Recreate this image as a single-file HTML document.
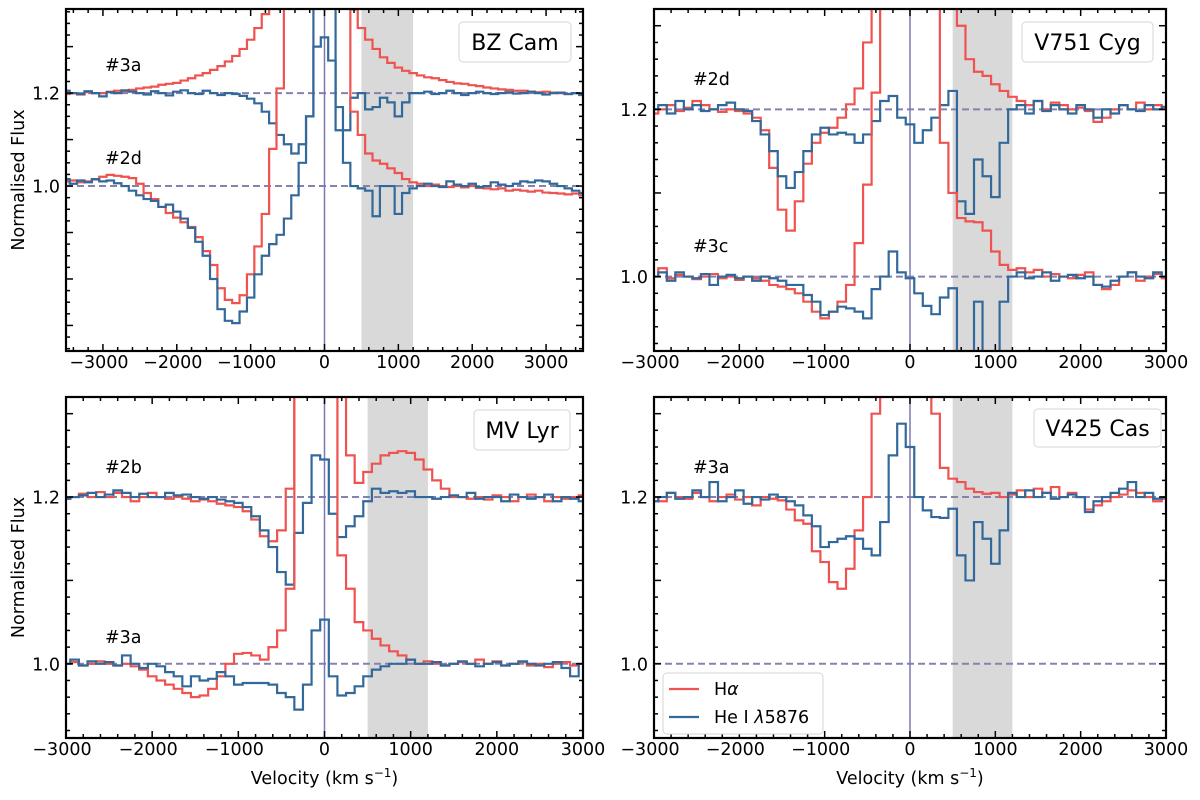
<!DOCTYPE html>
<html><head><meta charset="utf-8">
<style>
html,body{margin:0;padding:0;background:#fff;}
svg{display:block;font-family:"DejaVu Sans","Liberation Sans",sans-serif;}
</style></head>
<body>
<svg id="fig" width="1200" height="800" viewBox="0 0 1200 800" xmlns="http://www.w3.org/2000/svg"></svg>
<script>
// ---------------- DATA (100 km/s bins) ----------------
const tlStart = -3500;
const tlRed3a = [1.198,1.2,1.197,1.202,1.2,1.2,1.203,1.205,1.204,1.207,1.21,1.212,1.214,1.218,1.22,1.222,1.227,1.232,1.238,1.243,1.25,1.258,1.268,1.28,1.295,1.315,1.34,1.37,1.4,1.5,
 1.6,1.6,1.6,1.6,1.6,1.6,1.6,1.6,1.6,
 1.38,1.34,1.315,1.295,1.277,1.265,1.255,1.248,1.243,1.238,1.234,1.232,1.228,1.224,1.221,1.22,1.217,1.215,1.212,1.21,1.208,1.207,1.205,1.205,1.203,1.202,1.203,1.201,1.2,1.198,1.2,1.197];
const tlBlue3a = [1.205,1.2,1.198,1.204,1.2,1.193,1.202,1.2,1.206,1.203,1.2,1.197,1.204,1.2,1.195,1.203,1.206,1.2,1.198,1.205,1.2,1.196,1.2,
 1.198,1.194,1.188,1.178,1.16,1.135,1.11,1.09,1.07,1.09,1.15,1.3,1.32,1.27,1.17,1.12,1.19,1.2,1.165,1.17,1.19,1.18,1.15,1.18,1.2,
 1.2,1.203,1.198,1.2,1.205,1.2,1.196,1.2,1.203,1.2,1.198,1.2,1.202,1.199,1.2,1.203,1.2,1.197,1.2,1.201,1.198,1.2,1.196];
const tlRed2d = [1.01,1.012,1.008,1.01,1.014,1.02,1.024,1.022,1.02,1.017,1.005,0.985,0.972,0.955,0.942,0.932,0.922,0.912,0.89,0.86,0.83,0.78,0.755,0.748,0.765,0.81,0.87,0.94,1.08,1.21,1.5,
 1.6,1.6,1.6,1.6,1.6,1.6,1.6,1.6,
 1.16,1.11,1.07,1.055,1.048,1.038,1.028,1.015,1.008,1.005,1.0,1.003,1.0,0.998,1.0,0.997,1.0,0.996,0.995,0.993,0.995,0.99,0.992,0.99,0.988,0.99,0.986,0.985,0.984,0.982,0.984,0.98];
const tlBlue2d = [1.015,1.005,1.012,1.008,1.015,1.01,1.012,1.006,1.0,0.99,0.98,0.972,0.968,0.955,0.96,0.945,0.93,0.91,0.88,0.85,0.80,0.735,0.71,0.705,0.73,0.76,0.81,0.85,0.875,0.895,0.93,0.98,1.05,1.15,1.6,
 1.6,1.4,1.12,1.05,1.0,0.995,0.99,0.935,1.0,1.0,0.94,0.985,0.995,1.0,1.005,1.0,0.998,1.01,1.003,1.0,1.005,0.998,1.0,1.008,1.003,1.0,1.005,1.01,1.008,1.012,1.01,1.005,1.0,0.995,0.99,0.985];

const trStart = -3000;
const trRed2d = [1.195,1.2,1.205,1.198,1.202,1.21,1.205,1.2,1.197,1.2,1.198,1.195,1.19,1.175,1.13,1.08,1.055,1.09,1.135,1.16,1.172,1.178,1.19,1.206,1.225,1.28,1.35,
 1.5,1.5,1.5,1.5,1.5,1.5,1.5,1.5,1.5,
 1.3,1.26,1.245,1.24,1.23,1.222,1.215,1.21,1.205,1.21,1.2,1.208,1.205,1.2,1.202,1.198,1.185,1.19,1.2,1.205,1.2,1.208,1.2,1.205,1.2];
const trBlue2d = [1.2,1.205,1.195,1.21,1.2,1.205,1.198,1.2,1.205,1.208,1.2,1.198,1.186,1.17,1.15,1.12,1.106,1.125,1.15,1.17,1.178,1.17,1.172,1.17,1.16,1.17,1.186,1.21,1.216,1.19,1.182,1.16,1.175,1.19,1.205,1.222,1.09,1.075,1.14,1.12,1.095,1.16,1.2,1.205,1.195,1.21,1.198,1.205,1.2,1.195,1.205,1.2,1.19,1.2,1.195,1.205,1.2,1.198,1.205,1.2,1.203];
const trRed3c = [1.0,1.01,0.998,1.002,1.0,0.997,1.0,1.003,0.998,1.0,0.996,1.0,0.998,0.995,0.99,0.988,0.985,0.98,0.97,0.958,0.95,0.958,0.97,0.99,1.04,1.11,1.22,1.4,
 1.5,1.5,1.5,1.5,1.5,1.5,
 1.16,1.1,1.07,1.066,1.065,1.055,1.03,1.014,1.008,1.01,1.005,1.008,1.0,1.003,1.0,0.998,1.002,1.005,0.99,0.985,0.99,1.0,1.005,0.995,1.0,1.003,0.998];
const trBlue3c = [1.0,1.005,0.995,1.005,1.0,0.998,1.003,0.99,1.0,1.002,0.998,1.0,0.995,1.0,0.998,0.995,0.99,0.99,0.978,0.97,0.954,0.958,0.964,0.962,0.958,0.95,0.985,1.0,1.03,1.005,0.998,0.98,0.965,0.955,0.975,0.986,0.9,0.88,0.97,0.9,0.88,0.97,1.0,1.005,0.998,1.0,1.005,0.995,1.0,1.002,0.998,1.0,0.99,0.988,0.995,1.0,1.005,1.0,0.998,1.005,1.0];

const blStart = -3000;
const blRed2b = [1.198,1.2,1.204,1.2,1.206,1.2,1.205,1.2,1.195,1.2,1.205,1.2,1.198,1.2,1.198,1.195,1.197,
 1.195,1.192,1.19,1.188,1.183,1.173,1.153,1.147,1.16,1.21,1.4,
 1.5,1.5,1.5,1.5,1.5,
 1.25,1.217,1.23,1.24,1.25,1.253,1.255,1.253,1.245,1.233,1.22,1.21,1.2,1.2,1.198,1.2,1.197,1.202,1.2,1.195,1.2,1.203,1.2,1.195,1.2,1.198,1.2,1.202];
const blBlue2b = [1.198,1.2,1.202,1.205,1.2,1.203,1.208,1.205,1.2,1.204,1.2,1.2,1.205,1.202,1.203,1.2,1.198,1.2,1.197,1.195,
 1.193,1.188,1.177,1.16,1.14,1.11,1.095,1.157,1.193,1.25,1.245,1.18,1.152,1.165,1.177,1.195,1.21,1.205,1.207,1.205,1.207,1.2,
 1.2,1.198,1.2,1.202,1.2,1.205,1.198,1.2,1.2,1.195,1.203,1.2,1.198,1.2,1.203,1.195,1.2,1.198,1.195];
const blRed3a = [1.0,1.002,0.998,1.0,1.003,1.0,0.998,1.0,0.997,
 0.993,0.985,0.98,0.975,0.97,0.965,0.96,0.962,0.97,0.985,1.0,1.012,1.013,1.01,1.005,1.02,1.04,1.09,1.4,
 1.5,1.5,1.5,1.5,
 1.13,1.09,1.05,1.04,1.03,1.022,1.015,1.01,1.005,1.0,1.003,1.0,0.998,1.0,1.002,1.0,1.005,1.0,1.003,0.998,1.0,1.002,0.998,1.0,0.996,1.0,1.002,0.998,1.0];
const blBlue3a = [1.0,1.005,0.998,1.003,1.0,1.002,0.998,1.01,1.0,0.995,1.0,0.997,0.99,
 0.985,0.973,0.985,0.98,0.982,0.99,0.985,0.975,0.977,0.977,0.977,0.975,0.965,0.96,0.945,0.975,1.04,1.053,0.985,0.962,0.965,0.973,0.985,0.993,0.997,1.0,1.0,1.005,1.0,
 1.0,1.002,0.998,1.0,1.003,1.0,0.997,1.0,1.002,0.998,1.0,1.003,1.0,0.998,1.0,1.002,0.995,0.985,1.0];

const brStart = -3000;
const brRed3a = [1.2,1.195,1.205,1.2,1.198,1.205,1.2,1.195,1.2,1.203,1.197,1.2,1.19,1.2,1.198,1.196,
 1.185,1.172,1.168,1.135,1.122,1.098,1.09,1.114,1.16,1.2,1.3,
 1.5,1.5,1.5,1.5,1.5,1.5,
 1.3,1.235,1.222,1.218,1.21,1.206,1.204,1.205,1.2,1.203,1.208,1.2,1.21,1.205,1.212,1.2,1.205,1.2,1.185,1.19,1.195,1.2,1.203,1.208,1.205,1.2,1.195,1.198];
const brBlue3a = [1.195,1.2,1.205,1.198,1.2,1.208,1.2,1.218,1.195,1.2,1.208,1.192,1.2,1.197,1.203,1.2,1.195,1.19,1.178,
 1.165,1.14,1.146,1.15,1.153,1.15,1.138,1.13,1.17,1.25,1.288,1.26,1.2,1.184,1.176,1.175,1.186,1.13,1.1,1.17,1.15,1.12,1.16,1.205,
 1.2,1.208,1.2,1.205,1.198,1.2,1.203,1.2,1.182,1.195,1.2,1.205,1.21,1.218,1.2,1.205,1.198,1.2];

const xTicksTL = [-3000,-2000,-1000,0,1000,2000,3000];
const xTicks = [-3000,-2000,-1000,0,1000,2000,3000];
const yTickLabels = [1.0,1.2];

// ---------------- RENDER ----------------
const NS = "http://www.w3.org/2000/svg";
const svg = document.getElementById('fig');
const RED = "#ef5350", BLUE = "#33699a";
const FS = 17.5;
function mk(tag, attrs, parent){
  const e = document.createElementNS(NS, tag);
  for (const k in attrs) e.setAttribute(k, attrs[k]);
  (parent||svg).appendChild(e);
  return e;
}
function panel(id, box, xlim, ylim, yMinorStep, name, series, labels, showYLabel, showXLabel, ticks){
  const [x0,y0,x1,y1] = box;
  const sx = v => x0 + (v - xlim[0])/(xlim[1]-xlim[0])*(x1-x0);
  const sy = f => y1 - (f - ylim[0])/(ylim[1]-ylim[0])*(y1-y0);
  const g = mk('g', {});
  
  
  const cp = mk('clipPath', {id:'clip-'+id}, g);
  mk('rect', {x:x0, y:y0, width:x1-x0, height:y1-y0}, cp);
  const band = mk('rect', {x:sx(500), y:y0, width:sx(1200)-sx(500), height:y1-y0, fill:'#d9d9d9'}, g);
  
  
  [1.0,1.2].forEach(b=>{
    const l = mk('line', {x1:x0, x2:x1, y1:sy(b), y2:sy(b), stroke:'#8583ad', 'stroke-width':2, 'stroke-dasharray':'7,4'}, g);
    
    
  });
  const z = mk('line', {x1:sx(0), x2:sx(0), y1:y0, y2:y1, stroke:'#7b78b4', 'stroke-width':1.5}, g);
  
  
  const sg = mk('g', {'clip-path':'url(#clip-'+id+')'}, g);
  series.forEach(s=>{
    let d = '';
    s.vals.forEach((f,i)=>{
      const v = s.start + i*100;
      const xa = sx(v-50), xb = sx(v+50), y = sy(f);
      d += (i===0 ? 'M'+xa+','+y : 'L'+xa+','+y) + 'L'+xb+','+y;
    });
    const p = mk('path', {d:d, fill:'none', stroke:s.color, 'stroke-width':2.2, 'stroke-linejoin':'miter'}, sg);
    
    
  });
  const fr = mk('rect', {x:x0, y:y0, width:x1-x0, height:y1-y0, fill:'none', stroke:'#000', 'stroke-width':2.2}, g);
  
  
  for (let v = Math.ceil(xlim[0]/200)*200; v <= xlim[1]; v += 200){
    const major = v % 1000 === 0;
    const L = major ? 7 : 4, X = sx(v);
    mk('line', {x1:X,x2:X,y1:y1,y2:y1-L,stroke:'#000','stroke-width':1.5}, g);
    mk('line', {x1:X,x2:X,y1:y0,y2:y0+L,stroke:'#000','stroke-width':1.5}, g);
  }
  ticks.forEach(v=>{
    const t = mk('text', {x:sx(v) - (v<0?4:0), y:y1+17, 'text-anchor':'middle', 'font-size':FS}, g);
    t.textContent = (v<0 ? '\u2212' : '') + Math.abs(v);
    
    
  });
  const nMin = Math.round((ylim[1]-ylim[0])/yMinorStep)+2;
  const first = Math.ceil(ylim[0]/yMinorStep - 1e-6);
  for (let k = first; k < first + nMin; k++){
    const f = k*yMinorStep; if (f > ylim[1]+1e-9) break;
    const major = Math.abs(f*10 - Math.round(f*10)) < 1e-6;
    const L = major ? 7 : 4, Y = sy(f);
    mk('line', {x1:x0,x2:x0+L,y1:Y,y2:Y,stroke:'#000','stroke-width':1.5}, g);
    mk('line', {x1:x1,x2:x1-L,y1:Y,y2:Y,stroke:'#000','stroke-width':1.5}, g);
  }
  yTickLabels.forEach(f=>{
    const t = mk('text', {x:x0-6, y:sy(f)+6.5, 'text-anchor':'end', 'font-size':FS}, g);
    t.textContent = f.toFixed(1);
    
    
  });
  labels.forEach(l=>{
    const t = mk('text', {x:x0+39, y:l.y, 'font-size':FS}, g);
    t.textContent = l.text;
    
    
  });
  const nb = mk('g', {}, g);
  
  
  mk('rect', {x:name.x, y:name.y, width:name.w, height:name.h, rx:4, fill:'#fff', stroke:'#d5d5d5', 'stroke-width':1}, nb);
  const nt = mk('text', {x:name.x+name.w/2, y:name.y+name.h/2+8, 'text-anchor':'middle', 'font-size':22}, nb);
  nt.textContent = name.text;
  if (showYLabel){
    const yl = mk('text', {x:0,y:0,'font-size':FS,'text-anchor':'middle',transform:'translate(24,'+((y0+y1)/2)+') rotate(-90)'}, g);
    yl.textContent = 'Normalised Flux';
    
    
  }
  if (showXLabel){
    const xl = mk('text', {x:(x0+x1)/2, y:784, 'text-anchor':'middle', 'font-size':FS}, g);
    xl.innerHTML = 'Velocity (km s<tspan dy="-7" font-size="12">\u22121</tspan><tspan dy="7">)</tspan>';
    
    
  }
}

panel('bz-cam', [66,9,583,351], [-3500,3500], [0.645,1.381], 0.025,
  {x:459,y:22,w:112,h:40,text:'BZ Cam'},
  [{vals:tlRed3a,start:tlStart,color:RED,name:'halpha-3a'},{vals:tlBlue3a,start:tlStart,color:BLUE,name:'hei-3a'},
   {vals:tlRed2d,start:tlStart,color:RED,name:'halpha-2d'},{vals:tlBlue2d,start:tlStart,color:BLUE,name:'hei-2d'}],
  [{text:'#3a',y:71},{text:'#2d',y:164}], true, false, xTicksTL);

panel('v751-cyg', [654,9,1166,351], [-3000,3000], [0.911,1.32], 0.02,
  {x:1022,y:22,w:131,h:40,text:'V751 Cyg'},
  [{vals:trRed2d,start:trStart,color:RED,name:'halpha-2d'},{vals:trBlue2d,start:trStart,color:BLUE,name:'hei-2d'},
   {vals:trRed3c,start:trStart,color:RED,name:'halpha-3c'},{vals:trBlue3c,start:trStart,color:BLUE,name:'hei-3c'}],
  [{text:'#2d',y:85},{text:'#3c',y:252}], false, false, xTicks);

panel('mv-lyr', [66,397,583,738], [-3000,3000], [0.911,1.32], 0.02,
  {x:474,y:410,w:96,h:40,text:'MV Lyr'},
  [{vals:blRed2b,start:blStart,color:RED,name:'halpha-2b'},{vals:blBlue2b,start:blStart,color:BLUE,name:'hei-2b'},
   {vals:blRed3a,start:blStart,color:RED,name:'halpha-3a'},{vals:blBlue3a,start:blStart,color:BLUE,name:'hei-3a'}],
  [{text:'#2b',y:473},{text:'#3a',y:643}], true, true, xTicks);

panel('v425-cas', [654,397,1166,738], [-3000,3000], [0.911,1.32], 0.02,
  {x:1034,y:409,w:127,h:38,text:'V425 Cas'},
  [{vals:brRed3a,start:brStart,color:RED,name:'halpha-3a'},{vals:brBlue3a,start:brStart,color:BLUE,name:'hei-3a'}],
  [{text:'#3a',y:473}], false, true, xTicks);

const lg = mk('g', {});


mk('rect', {x:663,y:673,width:160,height:61,rx:4,fill:'#fff',stroke:'#d5d5d5','stroke-width':1}, lg);
mk('line', {x1:669,x2:699,y1:689,y2:689,stroke:RED,'stroke-width':2.2}, lg);
mk('line', {x1:669,x2:699,y1:717,y2:717,stroke:BLUE,'stroke-width':2.2}, lg);
const l1 = mk('text', {x:714,y:695,'font-size':FS}, lg);
l1.innerHTML = 'H<tspan font-style="italic">α</tspan>';


const l2 = mk('text', {x:714,y:723,'font-size':FS}, lg);
l2.innerHTML = 'He I <tspan font-style="italic">λ</tspan>5876';


</script>
</body></html>
